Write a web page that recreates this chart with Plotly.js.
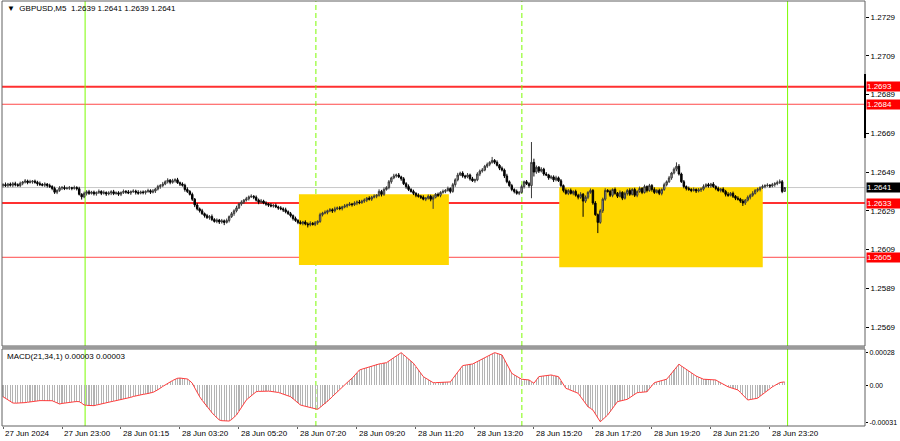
<!DOCTYPE html>
<html><head><meta charset="utf-8">
<script src="https://cdn.plot.ly/plotly-3.0.1.min.js"></script>
<style>html,body{margin:0;padding:0;background:#fff;}#chart{width:900px;height:441px;}</style>
</head><body><div id="chart"></div>
<script>
const symbolTitle = "GBPUSD,M5";
const lastBarOHLC = ["1.2639", "1.2641", "1.2639", "1.2641"];
const macdTitle = "MACD(21,34,1) 0.00003 0.00003";

const opens = [
1.26420,1.26425,1.26420,1.26428,1.26422,1.26430,1.26425,1.26420,1.26432,1.26438,
1.26444,1.26436,1.26440,1.26443,1.26437,1.26430,1.26426,1.26422,1.26428,1.26420,
1.26415,1.26405,1.26386,1.26395,1.26408,1.26410,1.26405,1.26407,1.26409,1.26406,
1.26410,1.26404,1.26375,1.26362,1.26380,1.26388,1.26380,1.26386,1.26378,1.26384,
1.26390,1.26380,1.26385,1.26377,1.26382,1.26388,1.26379,1.26383,1.26376,1.26384,
1.26390,1.26387,1.26382,1.26389,1.26392,1.26385,1.26381,1.26387,1.26384,1.26390,
1.26394,1.26386,1.26392,1.26402,1.26415,1.26420,1.26428,1.26440,1.26448,1.26437,
1.26445,1.26450,1.26435,1.26428,1.26422,1.26400,1.26390,1.26375,1.26350,1.26320,
1.26300,1.26290,1.26275,1.26265,1.26255,1.26260,1.26245,1.26235,1.26242,1.26232,
1.26238,1.26230,1.26240,1.26260,1.26275,1.26290,1.26305,1.26325,1.26335,1.26345,
1.26352,1.26362,1.26365,1.26360,1.26345,1.26335,1.26340,1.26330,1.26325,1.26320,
1.26315,1.26318,1.26310,1.26305,1.26300,1.26295,1.26285,1.26275,1.26265,1.26250,
1.26240,1.26230,1.26225,1.26232,1.26222,1.26218,1.26225,1.26220,1.26228,1.26235,
1.26270,1.26278,1.26282,1.26290,1.26295,1.26290,1.26300,1.26305,1.26302,1.26310,
1.26315,1.26320,1.26325,1.26322,1.26330,1.26335,1.26332,1.26340,1.26345,1.26355,
1.26350,1.26360,1.26365,1.26370,1.26390,1.26375,1.26400,1.26410,1.26440,1.26460,
1.26470,1.26475,1.26465,1.26455,1.26430,1.26415,1.26400,1.26390,1.26380,1.26370,
1.26365,1.26360,1.26350,1.26355,1.26365,1.26350,1.26360,1.26375,1.26370,1.26385,
1.26390,1.26395,1.26405,1.26390,1.26425,1.26450,1.26475,1.26485,1.26470,1.26465,
1.26475,1.26455,1.26445,1.26450,1.26480,1.26495,1.26500,1.26520,1.26530,1.26540,
1.26550,1.26540,1.26525,1.26510,1.26500,1.26470,1.26440,1.26420,1.26400,1.26390,
1.26380,1.26385,1.26415,1.26440,1.26430,1.26420,1.26540,1.26490,1.26515,1.26495,
1.26505,1.26480,1.26475,1.26460,1.26465,1.26450,1.26460,1.26445,1.26420,1.26395,
1.26380,1.26395,1.26380,1.26390,1.26370,1.26360,1.26375,1.26340,1.26360,1.26385,
1.26395,1.26330,1.26270,1.26230,1.26290,1.26350,1.26395,1.26390,1.26370,1.26400,
1.26380,1.26365,1.26385,1.26355,1.26380,1.26395,1.26375,1.26400,1.26370,1.26390,
1.26405,1.26385,1.26415,1.26395,1.26420,1.26400,1.26385,1.26395,1.26380,1.26400,
1.26425,1.26440,1.26460,1.26485,1.26505,1.26520,1.26480,1.26440,1.26415,1.26405,
1.26400,1.26395,1.26400,1.26392,1.26398,1.26402,1.26415,1.26425,1.26418,1.26428,
1.26415,1.26405,1.26395,1.26402,1.26390,1.26375,1.26370,1.26380,1.26365,1.26355,
1.26350,1.26340,1.26330,1.26345,1.26360,1.26370,1.26380,1.26395,1.26400,1.26410,
1.26415,1.26420,1.26422,1.26418,1.26425,1.26430,1.26435,1.26440,1.26390];

const highs = [
1.26432,1.26436,1.26434,1.26436,1.26439,1.26440,1.26432,1.26441,1.26444,1.26454,
1.26451,1.26450,1.26449,1.26451,1.26445,1.26441,1.26433,1.26437,1.26433,1.26430,
1.26422,1.26415,1.26401,1.26417,1.26418,1.26421,1.26414,1.26418,1.26414,1.26420,
1.26417,1.26414,1.26381,1.26389,1.26396,1.26398,1.26393,1.26394,1.26390,1.26400,
1.26396,1.26395,1.26390,1.26391,1.26396,1.26398,1.26390,1.26391,1.26390,1.26400,
1.26397,1.26397,1.26395,1.26401,1.26399,1.26396,1.26394,1.26395,1.26396,1.26404,
1.26401,1.26402,1.26408,1.26424,1.26428,1.26439,1.26447,1.26458,1.26454,1.26455,
1.26458,1.26460,1.26441,1.26437,1.26430,1.26411,1.26397,1.26384,1.26356,1.26330,
1.26307,1.26300,1.26281,1.26274,1.26268,1.26271,1.26252,1.26251,1.26248,1.26248,
1.26245,1.26250,1.26266,1.26284,1.26298,1.26316,1.26332,1.26344,1.26351,1.26362,
1.26369,1.26375,1.26371,1.26369,1.26353,1.26351,1.26347,1.26339,1.26331,1.26330,
1.26325,1.26328,1.26316,1.26314,1.26308,1.26306,1.26292,1.26284,1.26271,1.26260,
1.26247,1.26240,1.26238,1.26241,1.26230,1.26236,1.26232,1.26237,1.26241,1.26280,
1.26285,1.26292,1.26296,1.26304,1.26303,1.26311,1.26312,1.26314,1.26316,1.26325,
1.26327,1.26335,1.26331,1.26339,1.26343,1.26346,1.26347,1.26354,1.26361,1.26365,
1.26367,1.26375,1.26376,1.26401,1.26398,1.26411,1.26417,1.26449,1.26466,1.26481,
1.26482,1.26485,1.26471,1.26464,1.26438,1.26426,1.26407,1.26399,1.26386,1.26380,
1.26372,1.26370,1.26361,1.26374,1.26373,1.26371,1.26382,1.26384,1.26391,1.26400,
1.26402,1.26415,1.26411,1.26434,1.26458,1.26486,1.26492,1.26494,1.26476,1.26485,
1.26482,1.26465,1.26456,1.26489,1.26503,1.26511,1.26527,1.26539,1.26546,1.26568,
1.26557,1.26550,1.26531,1.26519,1.26508,1.26481,1.26447,1.26429,1.26406,1.26400,
1.26392,1.26425,1.26446,1.26449,1.26438,1.26645,1.26559,1.26524,1.26521,1.26515,
1.26512,1.26490,1.26481,1.26474,1.26473,1.26471,1.26467,1.26454,1.26426,1.26405,
1.26402,1.26405,1.26396,1.26399,1.26378,1.26386,1.26382,1.26369,1.26391,1.26405,
1.26402,1.26340,1.26276,1.26299,1.26358,1.26406,1.26402,1.26399,1.26406,1.26410,
1.26387,1.26395,1.26391,1.26389,1.26403,1.26406,1.26407,1.26409,1.26396,1.26415,
1.26412,1.26425,1.26421,1.26429,1.26428,1.26411,1.26402,1.26404,1.26406,1.26435,
1.26447,1.26470,1.26491,1.26514,1.26540,1.26531,1.26487,1.26449,1.26421,1.26415,
1.26407,1.26410,1.26406,1.26407,1.26410,1.26426,1.26432,1.26434,1.26434,1.26438,
1.26422,1.26415,1.26408,1.26411,1.26398,1.26386,1.26387,1.26389,1.26371,1.26365,
1.26357,1.26350,1.26351,1.26369,1.26378,1.26391,1.26402,1.26409,1.26416,1.26425,
1.26427,1.26432,1.26428,1.26434,1.26438,1.26446,1.26452,1.26449,1.26410];

const lows = [
1.26411,1.26413,1.26411,1.26415,1.26412,1.26416,1.26414,1.26412,1.26422,1.26431,
1.26427,1.26431,1.26430,1.26430,1.26419,1.26418,1.26416,1.26413,1.26410,1.26408,
1.26396,1.26377,1.26376,1.26388,1.26397,1.26397,1.26399,1.26398,1.26396,1.26399,
1.26395,1.26369,1.26348,1.26355,1.26369,1.26372,1.26374,1.26369,1.26368,1.26377,
1.26371,1.26374,1.26367,1.26370,1.26371,1.26371,1.26373,1.26367,1.26366,1.26377,
1.26378,1.26376,1.26372,1.26382,1.26374,1.26373,1.26375,1.26375,1.26374,1.26383,
1.26377,1.26380,1.26382,1.26395,1.26404,1.26412,1.26422,1.26431,1.26427,1.26430,
1.26436,1.26429,1.26418,1.26415,1.26389,1.26382,1.26369,1.26341,1.26309,1.26292,
1.26281,1.26269,1.26255,1.26248,1.26244,1.26237,1.26229,1.26226,1.26222,1.26224,
1.26216,1.26224,1.26230,1.26253,1.26264,1.26282,1.26299,1.26316,1.26325,1.26338,
1.26343,1.26356,1.26350,1.26338,1.26324,1.26327,1.26324,1.26316,1.26310,1.26308,
1.26306,1.26304,1.26295,1.26293,1.26284,1.26277,1.26269,1.26256,1.26240,1.26233,
1.26221,1.26219,1.26215,1.26215,1.26204,1.26210,1.26214,1.26211,1.26218,1.26228,
1.26261,1.26272,1.26272,1.26283,1.26279,1.26282,1.26294,1.26293,1.26292,1.26303,
1.26306,1.26314,1.26312,1.26315,1.26319,1.26324,1.26326,1.26331,1.26335,1.26343,
1.26341,1.26354,1.26355,1.26363,1.26364,1.26367,1.26394,1.26401,1.26430,1.26453,
1.26461,1.26459,1.26445,1.26423,1.26404,1.26392,1.26384,1.26371,1.26360,1.26358,
1.26351,1.26344,1.26340,1.26348,1.26339,1.26300,1.26354,1.26361,1.26360,1.26378,
1.26381,1.26389,1.26380,1.26383,1.26414,1.26442,1.26469,1.26461,1.26455,1.26458,
1.26446,1.26439,1.26435,1.26443,1.26469,1.26487,1.26494,1.26511,1.26520,1.26533,
1.26531,1.26519,1.26500,1.26493,1.26459,1.26432,1.26414,1.26391,1.26380,1.26373,
1.26371,1.26379,1.26405,1.26423,1.26409,1.26355,1.26467,1.26481,1.26485,1.26488,
1.26471,1.26469,1.26450,1.26453,1.26439,1.26442,1.26439,1.26411,1.26385,1.26373,
1.26371,1.26374,1.26370,1.26363,1.26349,1.26352,1.26259,1.26331,1.26350,1.26378,
1.26321,1.26264,1.26175,1.26223,1.26279,1.26342,1.26384,1.26361,1.26360,1.26373,
1.26356,1.26359,1.26345,1.26348,1.26369,1.26367,1.26369,1.26361,1.26360,1.26383,
1.26376,1.26379,1.26385,1.26388,1.26389,1.26377,1.26379,1.26371,1.26370,1.26393,
1.26416,1.26434,1.26450,1.26478,1.26494,1.26472,1.26434,1.26406,1.26395,1.26393,
1.26386,1.26389,1.26382,1.26385,1.26387,1.26394,1.26409,1.26409,1.26408,1.26408,
1.26396,1.26389,1.26385,1.26383,1.26364,1.26362,1.26364,1.26356,1.26345,1.26343,
1.26331,1.26315,1.26320,1.26338,1.26349,1.26362,1.26374,1.26386,1.26390,1.26403,
1.26406,1.26414,1.26408,1.26411,1.26414,1.26422,1.26429,1.26381,1.26390];

const closes = [
1.26425,1.26420,1.26428,1.26422,1.26430,1.26425,1.26420,1.26432,1.26438,1.26444,
1.26436,1.26440,1.26443,1.26437,1.26430,1.26426,1.26422,1.26428,1.26420,1.26415,
1.26405,1.26386,1.26395,1.26408,1.26410,1.26405,1.26407,1.26409,1.26406,1.26410,
1.26404,1.26375,1.26362,1.26380,1.26388,1.26380,1.26386,1.26378,1.26384,1.26390,
1.26380,1.26385,1.26377,1.26382,1.26388,1.26379,1.26383,1.26376,1.26384,1.26390,
1.26387,1.26382,1.26389,1.26392,1.26385,1.26381,1.26387,1.26384,1.26390,1.26394,
1.26386,1.26392,1.26402,1.26415,1.26420,1.26428,1.26440,1.26448,1.26437,1.26445,
1.26450,1.26435,1.26428,1.26422,1.26400,1.26390,1.26375,1.26350,1.26320,1.26300,
1.26290,1.26275,1.26265,1.26255,1.26260,1.26245,1.26235,1.26242,1.26232,1.26238,
1.26230,1.26240,1.26260,1.26275,1.26290,1.26305,1.26325,1.26335,1.26345,1.26352,
1.26362,1.26365,1.26360,1.26345,1.26335,1.26340,1.26330,1.26325,1.26320,1.26315,
1.26318,1.26310,1.26305,1.26300,1.26295,1.26285,1.26275,1.26265,1.26250,1.26240,
1.26230,1.26225,1.26232,1.26222,1.26218,1.26225,1.26220,1.26228,1.26235,1.26270,
1.26278,1.26282,1.26290,1.26295,1.26290,1.26300,1.26305,1.26302,1.26310,1.26315,
1.26320,1.26325,1.26322,1.26330,1.26335,1.26332,1.26340,1.26345,1.26355,1.26350,
1.26360,1.26365,1.26370,1.26390,1.26375,1.26400,1.26410,1.26440,1.26460,1.26470,
1.26475,1.26465,1.26455,1.26430,1.26415,1.26400,1.26390,1.26380,1.26370,1.26365,
1.26360,1.26350,1.26355,1.26365,1.26350,1.26360,1.26375,1.26370,1.26385,1.26390,
1.26395,1.26405,1.26390,1.26425,1.26450,1.26475,1.26485,1.26470,1.26465,1.26475,
1.26455,1.26445,1.26450,1.26480,1.26495,1.26500,1.26520,1.26530,1.26540,1.26550,
1.26540,1.26525,1.26510,1.26500,1.26470,1.26440,1.26420,1.26400,1.26390,1.26380,
1.26385,1.26415,1.26440,1.26430,1.26420,1.26540,1.26490,1.26515,1.26495,1.26505,
1.26480,1.26475,1.26460,1.26465,1.26450,1.26460,1.26445,1.26420,1.26395,1.26380,
1.26395,1.26380,1.26390,1.26370,1.26360,1.26375,1.26340,1.26360,1.26385,1.26395,
1.26330,1.26270,1.26230,1.26290,1.26350,1.26395,1.26390,1.26370,1.26400,1.26380,
1.26365,1.26385,1.26355,1.26380,1.26395,1.26375,1.26400,1.26370,1.26390,1.26405,
1.26385,1.26415,1.26395,1.26420,1.26400,1.26385,1.26395,1.26380,1.26400,1.26425,
1.26440,1.26460,1.26485,1.26505,1.26520,1.26480,1.26440,1.26415,1.26405,1.26400,
1.26395,1.26400,1.26392,1.26398,1.26402,1.26415,1.26425,1.26418,1.26428,1.26415,
1.26405,1.26395,1.26402,1.26390,1.26375,1.26370,1.26380,1.26365,1.26355,1.26350,
1.26340,1.26330,1.26345,1.26360,1.26370,1.26380,1.26395,1.26400,1.26410,1.26415,
1.26420,1.26422,1.26418,1.26425,1.26430,1.26435,1.26440,1.26390,1.26410];

const macd = [
-9.5e-5,-11e-5,-12.5e-5,-13.8e-5,-14.8e-5,-15e-5,-15e-5,-14.9e-5,-14.8e-5,-14.5e-5,
-14.2e-5,-13.8e-5,-13.4e-5,-13.1e-5,-12.9e-5,-12.8e-5,-12.8e-5,-12.9e-5,-12.9e-5,-12.8e-5,
-12.9e-5,-13.8e-5,-14.9e-5,-15.7e-5,-15.2e-5,-14.8e-5,-14.5e-5,-14.2e-5,-14e-5,-13.8e-5,
-13.6e-5,-13.7e-5,-15e-5,-16.5e-5,-16.8e-5,-17e-5,-17.1e-5,-17.1e-5,-16.6e-5,-16e-5,
-15.5e-5,-15e-5,-14.6e-5,-14.2e-5,-13.7e-5,-13.3e-5,-12.9e-5,-12.5e-5,-12.1e-5,-11.7e-5,
-11.2e-5,-10.6e-5,-10e-5,-9.3e-5,-8.7e-5,-8.1e-5,-7.8e-5,-7.5e-5,-7.2e-5,-6.9e-5,
-6.6e-5,-5.8e-5,-4.8e-5,-3.8e-5,-2.3e-5,-0.8e-5,0.6e-5,2e-5,3.2e-5,4.2e-5,
5.2e-5,6.1e-5,6.3e-5,6.2e-5,5.9e-5,5.5e-5,4e-5,1.9e-5,-2e-5,-6e-5,
-9.5e-5,-12.5e-5,-15.3e-5,-18e-5,-20.8e-5,-23e-5,-25.3e-5,-27.3e-5,-29.2e-5,-29.8e-5,
-30.1e-5,-30.3e-5,-30.1e-5,-28.8e-5,-27e-5,-25e-5,-21.8e-5,-18.6e-5,-15.4e-5,-12.3e-5,
-10.5e-5,-8.7e-5,-6.9e-5,-5.3e-5,-5e-5,-4.8e-5,-4.7e-5,-4.7e-5,-4.8e-5,-5e-5,
-5.1e-5,-5.3e-5,-5.9e-5,-6.6e-5,-7.3e-5,-8e-5,-8.8e-5,-9.5e-5,-11.2e-5,-13e-5,
-14.7e-5,-16.5e-5,-17.1e-5,-17.7e-5,-18.3e-5,-18.8e-5,-19.3e-5,-19.8e-5,-20.2e-5,-18.6e-5,
-17e-5,-15.3e-5,-13.7e-5,-11.5e-5,-9.4e-5,-7.3e-5,-5.2e-5,-3.1e-5,-1e-5,0.8e-5,
2.6e-5,4.4e-5,6.1e-5,8.5e-5,10.8e-5,13.1e-5,13.8e-5,14.5e-5,15.2e-5,16e-5,
16.7e-5,17.4e-5,17.8e-5,18.2e-5,18.6e-5,19e-5,19.3e-5,20.7e-5,22.1e-5,23.5e-5,
24.9e-5,26.3e-5,27.8e-5,26e-5,24.2e-5,22.4e-5,20.6e-5,18.8e-5,16e-5,13.2e-5,
10.4e-5,7.5e-5,6.2e-5,4.9e-5,3.7e-5,2.4e-5,2.4e-5,2.5e-5,2.5e-5,2.6e-5,
2.6e-5,2.7e-5,3e-5,5.8e-5,8.5e-5,11.3e-5,14e-5,16.8e-5,17.2e-5,17.5e-5,
17.9e-5,18.2e-5,19.2e-5,20.2e-5,21.2e-5,22.2e-5,23.3e-5,24.4e-5,25.5e-5,26.6e-5,
27.8e-5,27.2e-5,26.5e-5,25.8e-5,22e-5,18e-5,14e-5,10.3e-5,9e-5,7.8e-5,
6.5e-5,5.3e-5,5.1e-5,4.9e-5,4.7e-5,3.3e-5,1.9e-5,4.7e-5,7.5e-5,7.8e-5,
8.1e-5,8.4e-5,8.6e-5,8.9e-5,8.4e-5,8e-5,7.5e-5,4.2e-5,0.9e-5,-2.4e-5,
-3.2e-5,-4.1e-5,-4.9e-5,-5.8e-5,-6.6e-5,-9.5e-5,-12.3e-5,-15.2e-5,-18e-5,-19.4e-5,
-20.8e-5,-24.1e-5,-27.4e-5,-30.7e-5,-28.8e-5,-26.9e-5,-25e-5,-22.2e-5,-19.4e-5,-16.5e-5,
-13.7e-5,-13.2e-5,-12.7e-5,-12.2e-5,-11.7e-5,-10.3e-5,-8.9e-5,-7.5e-5,-6.1e-5,-5.9e-5,
-5.7e-5,-5.5e-5,-5.3e-5,-2.7e-5,-0.2e-5,2.4e-5,3e-5,3.6e-5,4.1e-5,4.7e-5,
5.3e-5,7.8e-5,10.3e-5,12.9e-5,15.4e-5,18e-5,16.5e-5,15e-5,13.4e-5,11.9e-5,
10.4e-5,8.9e-5,8e-5,7.1e-5,6.2e-5,5.3e-5,5.2e-5,5.1e-5,4.9e-5,4.8e-5,
4.7e-5,3.4e-5,2.1e-5,0.9e-5,-0.4e-5,-1.1e-5,-1.8e-5,-2.4e-5,-3.1e-5,-3.8e-5,
-5.9e-5,-8e-5,-10.2e-5,-12.3e-5,-11.9e-5,-11.5e-5,-11.2e-5,-10.8e-5,-9.1e-5,-7.5e-5,
-5.8e-5,-4.1e-5,-2.4e-5,-1.2e-5,0,1.2e-5,2.4e-5,2.8e-5,3e-5];

const priceTicks = [1.2569,1.2589,1.2609,1.2629,1.2649,1.2669,1.2689,1.2709,1.2729];
const macdTicks = [0.00028, 0, -0.00031];
const macdTickText = ["0.00028", "0.00", "-0.00031"];
const timeLabels = ["27 Jun 2024","27 Jun 23:00","28 Jun 01:15","28 Jun 03:20","28 Jun 05:20",
  "28 Jun 07:20","28 Jun 09:20","28 Jun 11:20","28 Jun 13:20","28 Jun 15:20",
  "28 Jun 17:20","28 Jun 19:20","28 Jun 21:20","28 Jun 23:20"];
const timeLabelBars = [0,24,48,72,96,120,144,168,192,216,240,264,288,312];
const levelPrices = [1.2693, 1.2684, 1.2633, 1.2605];
const levelBold = [true, false, true, false];
const lastPrice = 1.2641;
// yellow zones: start/end bar, low/high price
const zoneStartBars = [120.4, 226.3];
const zoneEndBars = [181.4, 309.1];
const zoneLows = [1.26010, 1.25998];
const zoneHighs = [1.26376, 1.26411];
const solidSeparators = [33.4, 319.2];
const dashedSeparators = [127.3, 211.1];

const FONT = "Liberation Sans, Arial, sans-serif";
const barIdx = closes.map((_, i) => i);

const traces = [
  {
    type: "candlestick", x: barIdx, open: opens, high: highs, low: lows, close: closes,
    xaxis: "x", yaxis: "y", hoverinfo: "skip",
    increasing: {line: {color: "#3a3a3a", width: 1}, fillcolor: "#a8a8a8"},
    decreasing: {line: {color: "#000000", width: 1}, fillcolor: "#000000"},
    whiskerwidth: 0
  },
  {
    type: "bar", x: barIdx, y: macd, xaxis: "x", yaxis: "y2", hoverinfo: "skip",
    width: 0.45, marker: {color: "#b4b4b4", line: {width: 0}}
  },
  {
    type: "scatter", mode: "lines", x: barIdx, y: macd, xaxis: "x", yaxis: "y2",
    hoverinfo: "skip", line: {color: "#ff3c3c", width: 1}
  }
];

const shapes = [];
for (let k = 0; k < zoneStartBars.length; k++) {
  shapes.push({type: "rect", layer: "below", xref: "x", yref: "y",
    x0: zoneStartBars[k], x1: zoneEndBars[k], y0: zoneLows[k], y1: zoneHighs[k],
    fillcolor: "#ffd700", line: {width: 0}});
}
shapes.push({type: "line", layer: "below", xref: "paper", yref: "y", x0: 0, x1: 1,
  y0: lastPrice, y1: lastPrice, line: {color: "#c8c8c8", width: 1}});
levelPrices.forEach((p, k) => {
  shapes.push({type: "line", layer: "below", xref: "paper", yref: "y", x0: 0, x1: 1,
    y0: p, y1: p, line: {color: levelBold[k] ? "#ff3030" : "#ff4a4a", width: levelBold[k] ? 2 : 1}});
});
solidSeparators.forEach(b => shapes.push({type: "line", layer: "below", xref: "x", yref: "paper",
  x0: b, x1: b, y0: 0, y1: 1, line: {color: "#7cfc00", width: 1}}));
dashedSeparators.forEach(b => shapes.push({type: "line", layer: "below", xref: "x", yref: "paper",
  x0: b, x1: b, y0: 0, y1: 1, line: {color: "#7cfc00", width: 1, dash: "5px,3px"}}));
shapes.push({type: "rect", xref: "paper", yref: "paper", x0: 0, x1: 1, y0: 0.1882, y1: 1,
  line: {color: "#606060", width: 1}, fillcolor: "rgba(0,0,0,0)"});
shapes.push({type: "rect", xref: "paper", yref: "paper", x0: 0, x1: 1, y0: 0, y1: 0.1812,
  line: {color: "#606060", width: 1}, fillcolor: "rgba(0,0,0,0)"});
shapes.push({type: "rect", xref: "paper", yref: "paper", x0: 0, x1: 1, y0: 0.1812, y1: 0.1882,
  line: {width: 0}, fillcolor: "#9a9a9a"});
shapes.push({type: "line", xref: "paper", yref: "y", x0: 1, x1: 1, y0: 1.26666, y1: 1.26996,
  line: {color: "#000", width: 2}});

const annotations = [];
annotations.push({xref: "paper", yref: "paper", x: 0, y: 1, xanchor: "left", yanchor: "top",
  xshift: 3, yshift: -1, showarrow: false, align: "left",
  text: "\u25BC  " + symbolTitle + "  " + lastBarOHLC.join(" "),
  font: {family: FONT, size: 8, color: "#000"}});
annotations.push({xref: "paper", yref: "paper", x: 0, y: 0.1812, xanchor: "left", yanchor: "top",
  xshift: 3, yshift: -1, showarrow: false, text: macdTitle,
  font: {family: FONT, size: 8, color: "#000"}});
timeLabels.forEach((t, k) => annotations.push({xref: "x", yref: "paper", x: timeLabelBars[k], y: 0,
  xanchor: "left", yanchor: "top", yshift: -1, showarrow: false, text: t,
  font: {family: FONT, size: 8, color: "#000"}}));
levelPrices.forEach(p => annotations.push({xref: "paper", yref: "y", x: 1, y: p, xanchor: "left",
  yanchor: "middle", xshift: 1, showarrow: false, text: p.toFixed(4), bgcolor: "#ff0000",
  borderpad: 0, width: 33, height: 9, align: "left", font: {family: FONT, size: 8, color: "#fff"}}));
annotations.push({xref: "paper", yref: "y", x: 1, y: lastPrice, xanchor: "left",
  yanchor: "middle", xshift: 1, showarrow: false, text: lastPrice.toFixed(4), bgcolor: "#000",
  borderpad: 0, width: 33, height: 9, align: "left", font: {family: FONT, size: 8, color: "#fff"}});

const layout = {
  width: 900, height: 441,
  margin: {l: 2, r: 35, t: 1, b: 15, pad: 0},
  paper_bgcolor: "#ffffff", plot_bgcolor: "#ffffff",
  showlegend: false, bargap: 0, boxgap: 0.15,
  font: {family: FONT, size: 8, color: "#000"},
  xaxis: {range: [-0.41, 350.7], anchor: "y2", showgrid: false, zeroline: false,
    showticklabels: false, tickvals: timeLabelBars, ticks: "outside", ticklen: 2, tickcolor: "#606060",
    rangeslider: {visible: false}, fixedrange: true, showline: false},
  yaxis: {domain: [0.1882, 1], range: [1.25592, 1.27373], side: "right", anchor: "x",
    showgrid: false, zeroline: false, tickvals: priceTicks,
    ticktext: priceTicks.map(v => v.toFixed(4)), ticks: "outside", ticklen: 3, tickcolor: "#000",
    tickfont: {family: FONT, size: 8, color: "#000"}, fixedrange: true},
  yaxis2: {domain: [0, 0.1812], range: [-3.43e-4, 3.09e-4], side: "right", anchor: "x",
    showgrid: false, zeroline: false, tickvals: macdTicks, ticktext: macdTickText,
    ticks: "outside", ticklen: 2, tickcolor: "#000",
    tickfont: {family: FONT, size: 7, color: "#000"}, fixedrange: true},
  shapes: shapes, annotations: annotations
};

Plotly.newPlot("chart", traces, layout, {staticPlot: true, displayModeBar: false});
</script></body></html>
